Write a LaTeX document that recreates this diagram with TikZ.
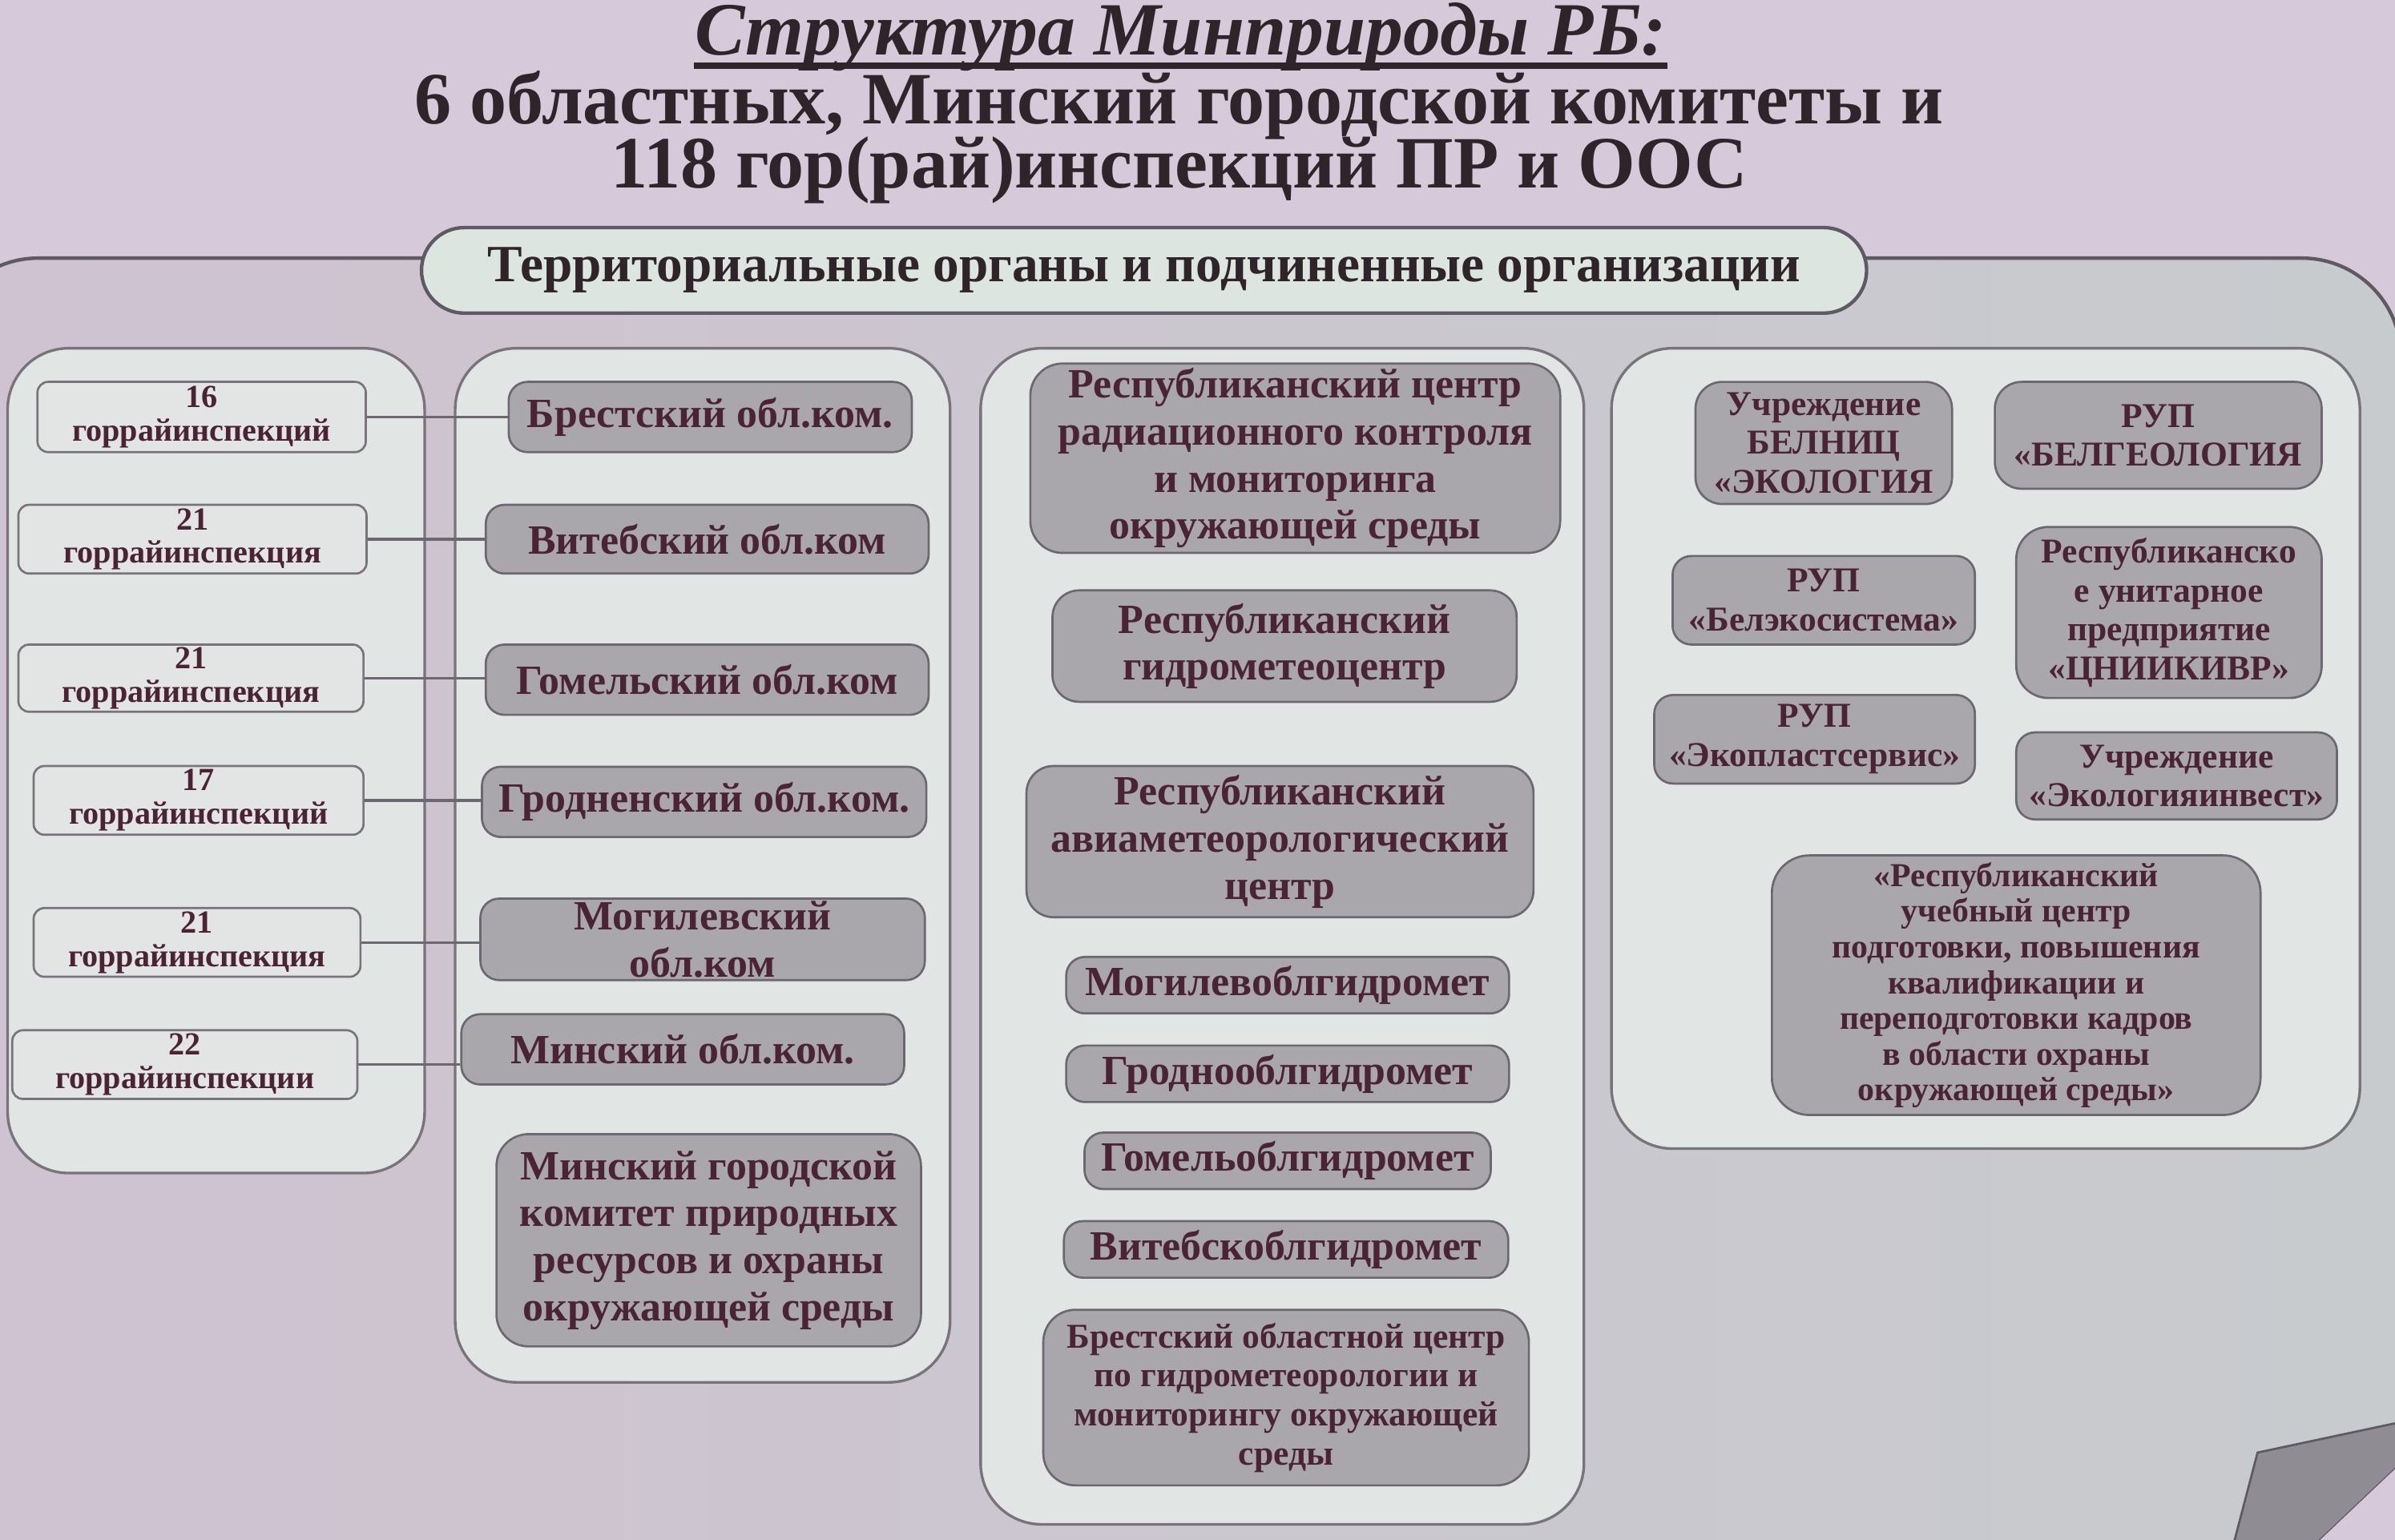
\documentclass[tikz,border=0pt]{standalone}
\usepackage{fontspec}
\setmainfont{Liberation Serif}
\usepackage{tikz}
\usetikzlibrary{shapes.misc, positioning}
\definecolor{slidebg}{HTML}{D6C9D9}
\definecolor{framel}{HTML}{CFC2D1}
\definecolor{framer}{HTML}{C7CBCE}
\definecolor{frameline}{HTML}{5E5962}
\definecolor{panelfill}{HTML}{E1E6E5}
\definecolor{panelline}{HTML}{79737B}
\definecolor{insfill}{HTML}{E3E5E5}
\definecolor{darkfill}{HTML}{A9A6AC}
\definecolor{darkline}{HTML}{6C6770}
\definecolor{ovalfill}{HTML}{DCE5E0}
\definecolor{boxtext}{HTML}{4A2434}
\definecolor{titletext}{HTML}{2E2429}
\definecolor{curlgray}{HTML}{8F8D93}
\newcommand{\tightlead}{\lineskiplimit=-30pt\relax}

\begin{document}
\begin{tikzpicture}[
  x=0.02cm, y=-0.02cm,
  panel/.style={draw=panelline, fill=panelfill, line width=1pt, rounded corners=0.8cm},
  inspbox/.style={
    rectangle, rounded corners=4pt, draw=panelline, fill=insfill, line width=0.8pt,
    align=center, inner sep=1pt, text=boxtext, font=\fontsize{12}{12.5}\selectfont\bfseries,
  },
  orgbox/.style={
    rectangle, rounded corners=7pt, draw=darkline, fill=darkfill, line width=0.8pt,
    align=center, inner sep=1pt, text=boxtext, font=\fontsize{15.5}{17.5}\selectfont\bfseries,
  },
  smallorg/.style={orgbox, font=\fontsize{13}{14.5}\selectfont\bfseries},
  conn/.style={draw=darkline, line width=1pt},
]
  \useasboundingbox (0,0) rectangle (1568,1008);
  \fill[slidebg] (0,0) rectangle (1568,1008);

  % Title
  \node[font=\fontsize{28}{30}\selectfont\bfseries\itshape, text=titletext, inner sep=0pt, anchor=base] (title) at (773,36)
    {Структура Минприроды РБ:};
  \draw[titletext, line width=2.2pt] ([yshift=-4pt]title.base west) -- ([yshift=-4pt]title.base east);
  \node[font=\fontsize{27.5}{24}\selectfont\tightlead\bfseries, text=titletext, inner sep=0pt, align=center] (sub) at (772,90)
    {6 областных, Минский городской комитеты и\\118 гор(рай)инспекций ПР и ООС};

  % Outer frame
  \draw[draw=frameline, line width=1.3pt, left color=framel, right color=framer, rounded corners=1.3cm]
    (-40,169) rectangle (1572,1060);
  \node[rounded rectangle, draw=frameline, fill=ovalfill, line width=1.3pt,
    minimum width=19.16cm, minimum height=1.12cm, text=titletext,
    font=\fontsize{19.5}{21}\selectfont\bfseries] (terr) at (749,177)
    {Территориальные органы и подчиненные организации};

  % Columns
  \draw[panel] (5,228) rectangle (278,768);
  \draw[panel] (298,228) rectangle (622,905);
  \draw[panel] (642,228) rectangle (1037,998);
  \draw[panel] (1055,228) rectangle (1545,752);

  % Inspections
  \node[inspbox, minimum width=4.3cm, minimum height=0.92cm] (i1) at (132,273) {16\\горрайинспекций};
  \node[inspbox, minimum width=4.56cm, minimum height=0.9cm] (i2) at (126,353) {21\\горрайинспекция};
  \node[inspbox, minimum width=4.52cm, minimum height=0.88cm] (i3) at (125,444) {21\\горрайинспекция};
  \node[inspbox, minimum width=4.32cm, minimum height=0.9cm] (i4) at (130,524) {17\\горрайинспекций};
  \node[inspbox, minimum width=4.28cm, minimum height=0.9cm] (i5) at (129,617) {21\\горрайинспекция};
  \node[inspbox, minimum width=4.52cm, minimum height=0.9cm] (i6) at (121,697) {22\\горрайинспекции};

  % Committees
  \node[orgbox, minimum width=5.28cm, minimum height=0.92cm] (k1) at (465,273) {Брестский обл.ком.};
  \node[orgbox, minimum width=5.8cm, minimum height=0.9cm] (k2) at (463,353) {Витебский обл.ком};
  \node[orgbox, minimum width=5.8cm, minimum height=0.92cm] (k3) at (463,445) {Гомельский обл.ком};
  \node[orgbox, minimum width=5.82cm, minimum height=0.92cm] (k4) at (461,525) {Гродненский обл.ком.};
  \node[orgbox, minimum width=5.82cm, minimum height=1cm] (k5) at (460,615) {Могилевский\\обл.ком};
  \node[orgbox, minimum width=5.8cm, minimum height=0.92cm] (k6) at (447,687) {Минский обл.ком.};
  \node[orgbox, minimum width=5.56cm, minimum height=2.78cm, rounded corners=12pt] (k7) at (464,812)
    {Минский городской\\комитет природных\\ресурсов и охраны\\окружающей среды};

  \foreach \n in {1,...,6}
    \draw[conn] (i\n.east) -- (i\n.east -| k\n.west);

  % Hydromet
  \node[orgbox, minimum width=6.94cm, minimum height=2.48cm, rounded corners=12pt] (c1) at (848,300)
    {Республиканский центр\\радиационного контроля\\и мониторинга\\окружающей среды};
  \node[orgbox, minimum width=6.08cm, minimum height=1.46cm, rounded corners=10pt] (c2) at (841,423)
    {Республиканский\\гидрометеоцентр};
  \node[orgbox, minimum width=6.64cm, minimum height=1.98cm, rounded corners=10pt] (c3) at (838,551)
    {Республиканский\\авиаметеорологический\\центр};
  \node[orgbox, minimum width=5.8cm, minimum height=0.74cm] (c4) at (843,645) {Могилевоблгидромет};
  \node[orgbox, minimum width=5.8cm, minimum height=0.74cm] (c5) at (843,703) {Гроднооблгидромет};
  \node[orgbox, minimum width=5.32cm, minimum height=0.74cm] (c6) at (843,760) {Гомельоблгидромет};
  \node[orgbox, minimum width=5.82cm, minimum height=0.74cm] (c7) at (842,818) {Витебскоблгидромет};
  \node[smallorg, minimum width=6.36cm, minimum height=2.3cm, rounded corners=12pt] (c8) at (842,915)
    {Брестский областной центр\\по гидрометеорологии и\\мониторингу окружающей\\среды};

  % Enterprises
  \node[smallorg, minimum width=3.36cm, minimum height=1.6cm, rounded corners=10pt] (r1) at (1194,290)
    {Учреждение\\БЕЛНИЦ\\«ЭКОЛОГИЯ};
  \node[smallorg, minimum width=4.28cm, minimum height=1.4cm, rounded corners=10pt] (r2) at (1413,285)
    {РУП\\«БЕЛГЕОЛОГИЯ};
  \node[smallorg, minimum width=3.96cm, minimum height=1.16cm] (r3) at (1194,393)
    {РУП\\«Белэкосистема»};
  \node[smallorg, minimum width=4cm, minimum height=2.24cm, rounded corners=12pt] (r4) at (1420,401)
    {Республиканско\\е унитарное\\предприятие\\«ЦНИИКИВР»};
  \node[smallorg, minimum width=4.2cm, minimum height=1.16cm] (r5) at (1188,484)
    {РУП\\«Экопластсервис»};
  \node[smallorg, minimum width=4.2cm, minimum height=1.14cm] (r6) at (1425,508)
    {Учреждение\\«Экологияинвест»};
  \node[smallorg, minimum width=6.4cm, minimum height=3.4cm, rounded corners=14pt,
    font=\fontsize{12.5}{13.3}\selectfont\bfseries] (r7) at (1320,645)
    {«Республиканский\\учебный центр\\подготовки, повышения\\квалификации и\\переподготовки кадров\\в области охраны\\окружающей среды»};

  % Page curl
  \draw[fill=curlgray, draw=frameline, line width=0.8pt] (1478,951) -- (1572,931) -- (1572,958) -- (1515,1012) -- (1462,1012) -- cycle;
  \fill[slidebg] (1572,958) -- (1572,1012) -- (1515,1012) -- cycle;
\end{tikzpicture}
\end{document}
